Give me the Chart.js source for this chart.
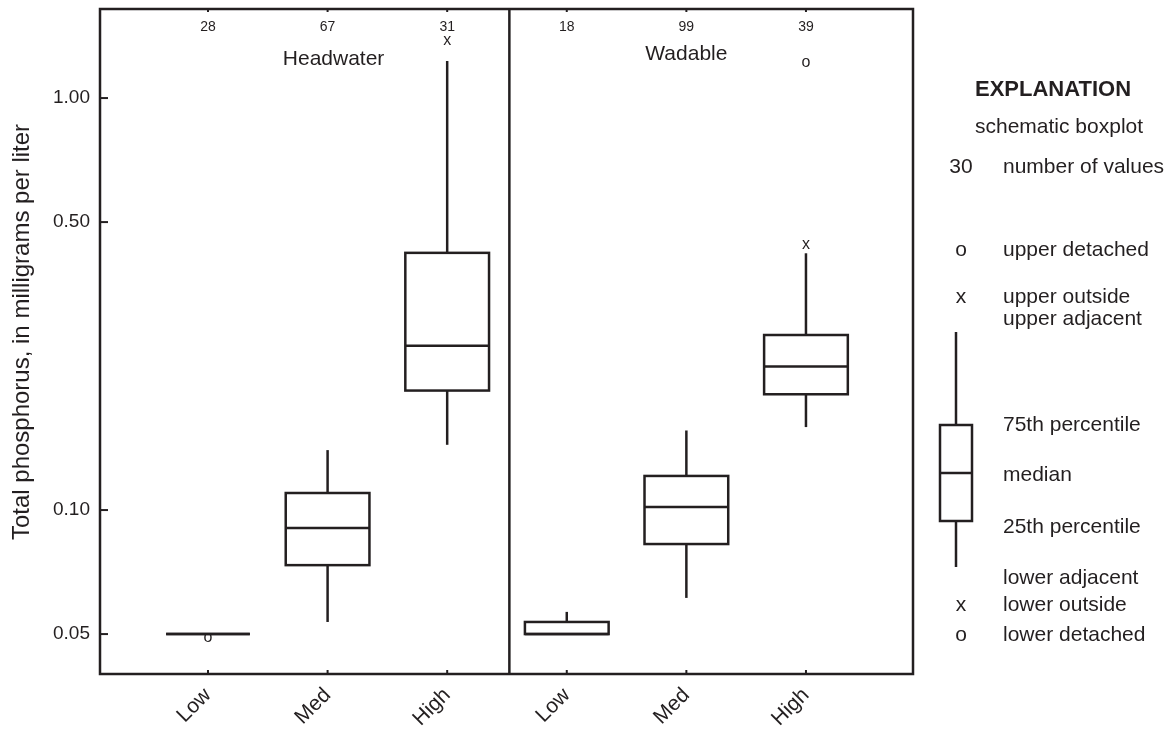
<!DOCTYPE html>
<html>
<head>
<meta charset="utf-8">
<script src="https://cdn.jsdelivr.net/npm/chart.js@4.4.1/dist/chart.umd.min.js"></script>
<style>
  html, body { margin: 0; padding: 0; background: #fff; }
  #wrap { width: 1172px; height: 732px; position: relative; }
</style>
</head>
<body>
<div id="wrap"><canvas id="chart"></canvas></div>
<script>
// stream size groups, three intensity classes in each
const groups = ['Headwater', 'Wadable'];
const categories = ['Low', 'Med', 'High', 'Low', 'Med', 'High'];
const counts = [28, 67, 31, 18, 99, 39];

// boxplot statistics, total phosphorus in mg/L
const lowerAdjacent = [0.05, 0.0535, 0.144, 0.05, 0.0612, 0.159];
const q1 = [0.05, 0.0735, 0.195, 0.05, 0.0827, 0.191];
const medians = [0.05, 0.0904, 0.2505, 0.05, 0.1017, 0.223];
const q3 = [0.05, 0.110, 0.421, 0.0535, 0.121, 0.266];
const upperAdjacent = [0.05, 0.1398, 1.23, 0.0566, 0.156, 0.42];

// outside (x) and detached (o) values as [category number, value]
const outsideValues = [[3, 1.367], [6, 0.436]];
const detachedValues = [[1, 0.0484], [6, 1.209]];

const yTicks = [0.05, 0.10, 0.50, 1.00];
const yTitle = 'Total phosphorus, in milligrams per liter';

const ink = '#231f20';
const family = "'Liberation Sans', Arial, sans-serif";

function line(ctx, x1, y1, x2, y2) {
    ctx.beginPath();
    ctx.moveTo(x1, y1);
    ctx.lineTo(x2, y2);
    ctx.stroke();
}

const boxPlots = {
    id: 'boxPlots',
    afterDraw(chart) {
        const { ctx, chartArea: a, scales: { x, y } } = chart;
        ctx.save();
        ctx.strokeStyle = ink;
        ctx.fillStyle = ink;
        ctx.lineWidth = 2.5;

        // frame and the divider between the two groups
        ctx.strokeRect(a.left, a.top, a.right - a.left, a.bottom - a.top);
        const xd = x.getPixelForValue(3.52);
        line(ctx, xd, a.top, xd, a.bottom);

        // tick marks point inward
        ctx.lineWidth = 2;
        yTicks.forEach(v => {
            const py = y.getPixelForValue(v);
            line(ctx, a.left, py, a.left + 8, py);
        });
        categories.forEach((c, i) => {
            const px = x.getPixelForValue(i + 1);
            line(ctx, px, a.bottom, px, a.bottom - 4);
            line(ctx, px, a.top, px, a.top + 3);
        });

        // boxes and whiskers
        ctx.lineWidth = 2.5;
        categories.forEach((c, i) => {
            const cx = x.getPixelForValue(i + 1);
            const left = x.getPixelForValue(i + 1 - 0.35);
            const right = x.getPixelForValue(i + 1 + 0.35);
            const pLow = y.getPixelForValue(lowerAdjacent[i]);
            const p1 = y.getPixelForValue(q1[i]);
            const pm = y.getPixelForValue(medians[i]);
            const p3 = y.getPixelForValue(q3[i]);
            const pHigh = y.getPixelForValue(upperAdjacent[i]);
            if (pHigh < p3) line(ctx, cx, p3, cx, pHigh);
            if (pLow > p1) line(ctx, cx, p1, cx, pLow);
            ctx.strokeRect(left, p3, right - left, p1 - p3);
            line(ctx, left, pm, right, pm);
        });

        // outside and detached values are marked with letters
        ctx.textAlign = 'center';
        ctx.textBaseline = 'middle';
        ctx.font = '16px ' + family;
        outsideValues.forEach(([n, v]) => {
            ctx.fillText('x', x.getPixelForValue(n), y.getPixelForValue(v) - 2);
        });
        detachedValues.forEach(([n, v]) => {
            ctx.fillText('o', x.getPixelForValue(n), y.getPixelForValue(v) - 2);
        });

        // number of values above each box
        ctx.font = '14px ' + family;
        counts.forEach((n, i) => {
            ctx.fillText(String(n), x.getPixelForValue(i + 1), a.top + 18);
        });

        // group names
        ctx.font = '21px ' + family;
        ctx.fillText(groups[0], x.getPixelForValue(2.05), a.top + 50);
        ctx.fillText(groups[1], x.getPixelForValue(5), a.top + 45);

        // y axis title
        ctx.save();
        ctx.translate(22, 332);
        ctx.rotate(-Math.PI / 2);
        ctx.font = '24px ' + family;
        ctx.fillText(yTitle, 0, 0);
        ctx.restore();

        // explanation
        const tx = a.right + 90;
        const sx = a.right + 48;
        ctx.textAlign = 'left';
        ctx.font = 'bold 22px ' + family;
        ctx.fillText('EXPLANATION', a.right + 62, 90);
        ctx.font = '21px ' + family;
        ctx.fillText('schematic boxplot', a.right + 62, 127);
        const rows = [
            ['30', 'number of values', 167],
            ['o', 'upper detached', 250],
            ['x', 'upper outside', 297],
            ['', 'upper adjacent', 319],
            ['', '75th percentile', 425],
            ['', 'median', 475],
            ['', '25th percentile', 527],
            ['', 'lower adjacent', 578],
            ['x', 'lower outside', 605],
            ['o', 'lower detached', 635]
        ];
        rows.forEach(([sym, label, ry]) => {
            ctx.textAlign = 'center';
            if (sym) ctx.fillText(sym, sx, ry);
            ctx.textAlign = 'left';
            ctx.fillText(label, tx, ry);
        });
        const bx = a.right + 43;
        line(ctx, bx, 332, bx, 425);
        line(ctx, bx, 521, bx, 567);
        ctx.strokeRect(bx - 16, 425, 32, 96);
        line(ctx, bx - 16, 473, bx + 16, 473);
        ctx.restore();
    }
};

new Chart(document.getElementById('chart'), {
    type: 'scatter',
    data: {
        datasets: [{
            data: medians.map((v, i) => ({ x: i + 1, y: v })),
            pointRadius: 0,
            pointHoverRadius: 0
        }]
    },
    options: {
        responsive: true,
        maintainAspectRatio: false,
        animation: false,
        events: [],
        layout: { padding: { top: 9, right: 259, left: 0, bottom: 0 } },
        plugins: {
            legend: { display: false },
            tooltip: { enabled: false }
        },
        scales: {
            x: {
                type: 'linear',
                min: 0.097,
                max: 6.895,
                afterBuildTicks: s => { s.ticks = categories.map((c, i) => ({ value: i + 1 })); },
                afterFit: s => { s.height = 58; s.paddingLeft = 0; s.paddingRight = 0; },
                grid: { display: false, drawTicks: false },
                border: { display: false },
                ticks: {
                    color: ink,
                    font: { family: family, size: 21 },
                    minRotation: 45,
                    maxRotation: 45,
                    padding: 9,
                    callback: v => categories[v - 1]
                }
            },
            y: {
                type: 'logarithmic',
                min: 0.04,
                max: 1.645,
                afterBuildTicks: s => { s.ticks = yTicks.map(v => ({ value: v })); },
                afterFit: s => { s.width = 100; s.paddingTop = 0; s.paddingBottom = 0; },
                grid: { display: false, drawTicks: false },
                border: { display: false },
                ticks: {
                    color: ink,
                    font: { family: family, size: 19 },
                    padding: 10,
                    callback: v => Number(v).toFixed(2)
                }
            }
        }
    },
    plugins: [boxPlots]
});
</script>
</body>
</html>
